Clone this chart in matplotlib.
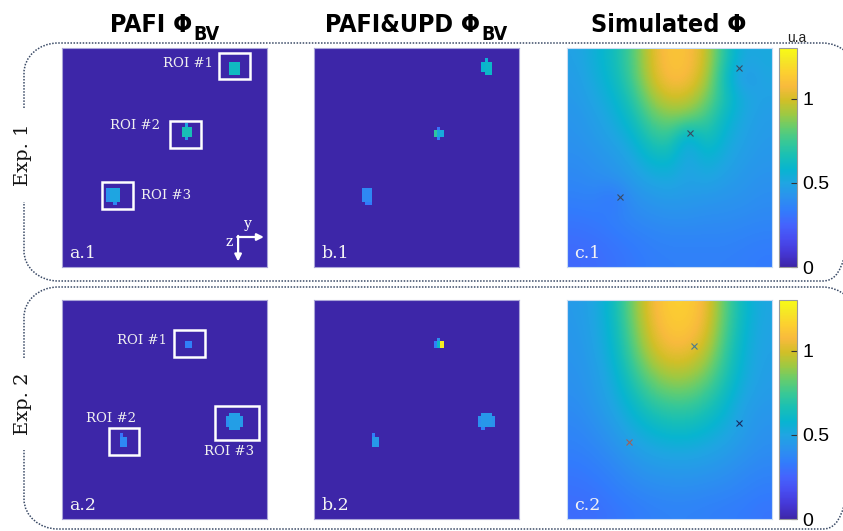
import numpy as np
import matplotlib
matplotlib.use('Agg')
import matplotlib.pyplot as plt
from matplotlib.colors import LinearSegmentedColormap
from matplotlib.patches import Rectangle, PathPatch
from matplotlib.path import Path

# ---------------- data ----------------
col_titles = ['PAFI Φ', 'PAFI&UPD Φ', 'Simulated Φ']
col_subs = ['BV', 'BV', '']
row_labels = ['Exp. 1', 'Exp. 2']
panel_labels = [['a.1', 'b.1', 'c.1'], ['a.2', 'b.2', 'c.2']]
cbar_ticks = [0, 0.5, 1]
cbar_ticklabels = ['0', '0.5', '1']
cbar_unit = 'u.a'
v_min, v_max = 0.0, 1.3
grid_ny, grid_nz = 60, 64

# reconstructed vessel blobs: (y0, y1, z0, z1, value), normalised panel coords
blobs_a1 = [(0.810, 0.840, 0.060, 0.115, 0.50), (0.825, 0.865, 0.070, 0.120, 0.62),
            (0.585, 0.625, 0.365, 0.410, 0.66), (0.600, 0.612, 0.410, 0.428, 0.45),
            (0.600, 0.612, 0.350, 0.365, 0.50),
            (0.225, 0.270, 0.635, 0.700, 0.42), (0.240, 0.283, 0.645, 0.705, 0.50),
            (0.245, 0.262, 0.700, 0.717, 0.38)]
blobs_b1 = [(0.815, 0.850, 0.060, 0.105, 0.58), (0.830, 0.870, 0.070, 0.120, 0.60),
            (0.830, 0.842, 0.048, 0.060, 0.55),
            (0.585, 0.602, 0.370, 0.410, 0.72), (0.602, 0.630, 0.370, 0.410, 0.52),
            (0.602, 0.614, 0.352, 0.370, 0.30), (0.602, 0.614, 0.410, 0.428, 0.35),
            (0.230, 0.285, 0.645, 0.700, 0.38), (0.245, 0.280, 0.700, 0.720, 0.33)]
blobs_a2 = [(0.595, 0.630, 0.180, 0.212, 0.35),
            (0.285, 0.315, 0.625, 0.665, 0.38), (0.285, 0.300, 0.612, 0.625, 0.30),
            (0.800, 0.880, 0.535, 0.580, 0.45), (0.815, 0.865, 0.520, 0.595, 0.47),
            (0.795, 0.810, 0.545, 0.575, 0.40)]
blobs_b2 = [(0.585, 0.600, 0.195, 0.215, 0.35), (0.600, 0.615, 0.185, 0.215, 0.60),
            (0.615, 0.632, 0.188, 0.212, 1.25), (0.600, 0.612, 0.168, 0.185, 0.40),
            (0.290, 0.317, 0.625, 0.665, 0.45), (0.290, 0.302, 0.610, 0.625, 0.35),
            (0.800, 0.880, 0.530, 0.575, 0.42), (0.815, 0.865, 0.515, 0.585, 0.44),
            (0.795, 0.810, 0.540, 0.570, 0.40), (0.812, 0.825, 0.585, 0.600, 0.35)]

# simulated fluence, coarse samples (rows: depth z, cols: y)
sim_c1 = [
    [0.48, 0.55, 0.63, 0.78, 1.00, 1.12, 1.10, 0.98, 0.68, 0.50, 0.52],
    [0.46, 0.53, 0.61, 0.76, 0.98, 1.10, 1.08, 0.94, 0.62, 0.42, 0.50],
    [0.45, 0.50, 0.57, 0.70, 0.90, 1.00, 0.98, 0.86, 0.66, 0.52, 0.48],
    [0.43, 0.47, 0.53, 0.63, 0.80, 0.86, 0.84, 0.76, 0.60, 0.50, 0.46],
    [0.42, 0.45, 0.49, 0.56, 0.70, 0.74, 0.50, 0.68, 0.55, 0.48, 0.45],
    [0.40, 0.42, 0.45, 0.50, 0.60, 0.62, 0.48, 0.58, 0.51, 0.46, 0.44],
    [0.38, 0.40, 0.42, 0.46, 0.51, 0.53, 0.48, 0.51, 0.47, 0.44, 0.42],
    [0.35, 0.36, 0.30, 0.41, 0.44, 0.46, 0.45, 0.44, 0.43, 0.42, 0.40],
    [0.32, 0.33, 0.35, 0.38, 0.40, 0.41, 0.41, 0.40, 0.40, 0.39, 0.38],
    [0.29, 0.30, 0.32, 0.34, 0.36, 0.37, 0.37, 0.37, 0.37, 0.36, 0.35],
    [0.27, 0.28, 0.30, 0.32, 0.34, 0.35, 0.35, 0.35, 0.35, 0.34, 0.33],
]
sim_c2 = [
    [0.45, 0.50, 0.62, 0.85, 1.05, 1.15, 1.15, 1.05, 0.80, 0.60, 0.50],
    [0.44, 0.49, 0.60, 0.82, 1.02, 1.12, 1.12, 1.02, 0.78, 0.58, 0.49],
    [0.43, 0.48, 0.58, 0.78, 0.97, 1.06, 1.05, 0.96, 0.74, 0.56, 0.48],
    [0.42, 0.46, 0.55, 0.72, 0.88, 0.96, 0.95, 0.87, 0.70, 0.54, 0.47],
    [0.41, 0.45, 0.52, 0.65, 0.78, 0.84, 0.84, 0.77, 0.64, 0.51, 0.46],
    [0.39, 0.43, 0.49, 0.58, 0.68, 0.72, 0.72, 0.67, 0.58, 0.47, 0.44],
    [0.37, 0.40, 0.45, 0.52, 0.58, 0.62, 0.62, 0.58, 0.52, 0.46, 0.42],
    [0.35, 0.37, 0.41, 0.46, 0.50, 0.52, 0.52, 0.50, 0.47, 0.43, 0.40],
    [0.32, 0.34, 0.37, 0.41, 0.44, 0.45, 0.45, 0.44, 0.42, 0.39, 0.37],
    [0.30, 0.31, 0.34, 0.37, 0.39, 0.40, 0.40, 0.39, 0.38, 0.36, 0.34],
    [0.28, 0.29, 0.31, 0.33, 0.35, 0.36, 0.36, 0.35, 0.34, 0.33, 0.31],
]
# vessel positions marked on simulated maps
marks_c1_y = [0.84, 0.60, 0.26]
marks_c1_z = [0.09, 0.39, 0.68]
marks_c2_y = [0.62, 0.84, 0.30]
marks_c2_z = [0.21, 0.56, 0.65]

# ROI boxes: (y0, z0, width, height) and their labels (text, y, z, ha)
roi_a1 = [(0.766, 0.023, 0.151, 0.119), (0.527, 0.333, 0.151, 0.124), (0.195, 0.612, 0.151, 0.123)]
roi_a1_txt = [('ROI #1', 0.735, 0.070, 'right'), ('ROI #2', 0.478, 0.355, 'right'),
              ('ROI #3', 0.385, 0.673, 'left')]
roi_a2 = [(0.546, 0.137, 0.152, 0.123), (0.229, 0.584, 0.147, 0.124), (0.746, 0.484, 0.215, 0.155)]
roi_a2_txt = [('ROI #1', 0.510, 0.186, 'right'), ('ROI #2', 0.240, 0.541, 'center'),
              ('ROI #3', 0.815, 0.692, 'center')]

# ---------------- style ----------------
parula_pts = [
    (0.2422, 0.1504, 0.6603), (0.2706, 0.2147, 0.8364), (0.2813, 0.3006, 0.9414),
    (0.2699, 0.3892, 0.9906), (0.1963, 0.4847, 0.9892), (0.1687, 0.5703, 0.9359),
    (0.1248, 0.6459, 0.8883), (0.0297, 0.7082, 0.8163), (0.0964, 0.7500, 0.7120),
    (0.2161, 0.7843, 0.5923), (0.3909, 0.8029, 0.4354), (0.6174, 0.7876, 0.2612),
    (0.8203, 0.7498, 0.1535), (0.9728, 0.7298, 0.2394), (0.9892, 0.8136, 0.1885),
    (0.9597, 0.9135, 0.1423), (0.9769, 0.9839, 0.0805)]
pos = [i * 4 / 63 for i in range(16)] + [1.0]
parula = LinearSegmentedColormap.from_list('parula', list(zip(pos, parula_pts)))

W, H = 843, 531
fig = plt.figure(figsize=(W / 100, H / 100), dpi=100)

# overlay for the rounded dotted frames
ov = fig.add_axes([0, 0, 1, 1])
ov.set_xlim(0, W)
ov.set_ylim(H, 0)
ov.axis('off')


def frame(left, top, right, bottom, rx, ry, g0, g1):
    k = 0.5523
    v = [(left, g0), (left, top + ry),
         (left, top + ry - k * ry), (left + rx - k * rx, top), (left + rx, top),
         (right - rx, top),
         (right - rx + k * rx, top), (right, top + ry - k * ry), (right, top + ry),
         (right, bottom - ry),
         (right, bottom - ry + k * ry), (right - rx + k * rx, bottom), (right - rx, bottom),
         (left + rx, bottom),
         (left + rx - k * rx, bottom), (left, bottom - ry + k * ry), (left, bottom - ry),
         (left, g1)]
    c = [Path.MOVETO, Path.LINETO] + [Path.CURVE4] * 3 + [Path.LINETO] + [Path.CURVE4] * 3 + \
        [Path.LINETO] + [Path.CURVE4] * 3 + [Path.LINETO] + [Path.CURVE4] * 3 + [Path.LINETO]
    ov.add_patch(PathPatch(Path(v, c), fill=False, ec='#3a4a66', lw=1.1,
                           ls=(0, (1, 1))))


frame(24, 43, 856, 281, 34, 30, 108, 202)
frame(24, 287, 856, 529, 34, 30, 358, 450)
for lab, yc in zip(row_labels, [155, 404]):
    ov.text(23, yc, lab, rotation=90, ha='center', va='center', fontsize=14,
            family='DejaVu Serif', color='#111111')


def ax_px(x0, y0, x1, y1):
    return fig.add_axes([x0 / W, 1 - y1 / H, (x1 - x0) / W, (y1 - y0) / H])


def blob_image(blobs):
    img = np.zeros((grid_nz, grid_ny))
    yc = (np.arange(grid_ny) + 0.5) / grid_ny
    zc = (np.arange(grid_nz) + 0.5) / grid_nz
    for (y0, y1, z0, z1, val) in blobs:
        my = (yc >= y0) & (yc <= y1)
        mz = (zc >= z0) & (zc <= z1)
        img[np.ix_(mz, my)] = val
    return img


col_x = [(62, 267), (314, 519), (567, 772)]
row_y = [(48, 267), (300, 519)]
blob_sets = [[blobs_a1, blobs_b1], [blobs_a2, blobs_b2]]
sims = [sim_c1, sim_c2]
marks = [(marks_c1_y, marks_c1_z, ['#3a4a60'] * 3),
         (marks_c2_y, marks_c2_z, ['#4a7a90', '#1a2a60', '#a0605a'])]
rois = [(roi_a1, roi_a1_txt), (roi_a2, roi_a2_txt)]

for r in range(2):
    ya, yb = row_y[r]
    for c in range(3):
        xa, xb = col_x[c]
        ax = ax_px(xa, ya, xb, yb)
        if c < 2:
            data = blob_image(blob_sets[r][c])
            im = ax.imshow(data, cmap=parula, vmin=v_min, vmax=v_max, extent=(0, 1, 1, 0),
                           aspect='auto', interpolation='nearest')
            sc = '#aaa5d8'
        else:
            im = ax.imshow(np.array(sims[r]), cmap=parula, vmin=v_min, vmax=v_max,
                           extent=(0, 1, 1, 0), aspect='auto', interpolation='bicubic')
            my, mz, mc = marks[r]
            for yy, zz, cc in zip(my, mz, mc):
                ax.plot(yy, zz, marker='x', ms=4.5, mew=0.8, color=cc, ls='none')
            sc = '#c8dcf4'
        ax.set_xlim(0, 1)
        ax.set_ylim(1, 0)
        ax.set_xticks([])
        ax.set_yticks([])
        for s in ax.spines.values():
            s.set_color(sc)
            s.set_linewidth(0.8)
        ax.text(0.035, 0.06, panel_labels[r][c], transform=ax.transAxes, ha='left',
                va='center', fontsize=12.5, family='DejaVu Serif', color='#f4f4f4')
        if c == 0:
            boxes, txts = rois[r]
            for (bx, bz, bw, bh) in boxes:
                ax.add_patch(Rectangle((bx, bz), bw, bh, fill=False, ec='white', lw=1.8))
            for (t, tx, tz, ha) in txts:
                ax.text(tx, tz, t, ha=ha, va='center', fontsize=9.5, family='DejaVu Serif',
                        color='#f0f0f0')
            if r == 0:
                ax.annotate('', xy=(0.985, 0.863), xytext=(0.855, 0.863),
                            arrowprops=dict(arrowstyle='-|>', color='white', lw=1.6,
                                            mutation_scale=10, shrinkA=0, shrinkB=0))
                ax.annotate('', xy=(0.859, 0.975), xytext=(0.859, 0.858),
                            arrowprops=dict(arrowstyle='-|>', color='white', lw=1.6,
                                            mutation_scale=10, shrinkA=0, shrinkB=0))
                ax.text(0.905, 0.805, 'y', ha='center', va='center', fontsize=10,
                        family='DejaVu Serif', color='white')
                ax.text(0.815, 0.885, 'z', ha='center', va='center', fontsize=10,
                        family='DejaVu Serif', color='white')
        if c == 2:
            cax = ax_px(779, ya, 797, yb)
            cb = fig.colorbar(im, cax=cax, ticks=cbar_ticks)
            cb.ax.set_yticklabels(cbar_ticklabels)
            cb.ax.tick_params(direction='in', length=4, width=0.8, labelsize=14,
                              color='#333333', pad=4)
            for lb in cb.ax.get_yticklabels():
                lb.set_family('Liberation Sans')
            cb.outline.set_edgecolor('#9a9a9a')
            cb.outline.set_linewidth(0.8)

# column titles (main text + lowered subscript)
renderer = fig.canvas.get_renderer()
title_font = dict(family='DejaVu Sans', stretch='condensed', weight='bold', color='black')
for c, (t, sub) in enumerate(zip(col_titles, col_subs)):
    xa, xb = col_x[c]
    ov.text(0, 0, '')
    tm = ov.text(0, 0, t, fontsize=18, **title_font)
    ts = ov.text(0, 0, sub, fontsize=14, **title_font)
    wm = tm.get_window_extent(renderer).width
    ws = ts.get_window_extent(renderer).width if sub else 0
    x0 = (xa + xb) / 2 - (wm + ws + 1) / 2
    tm.set_position((x0, 32))
    tm.set_va('baseline')
    ts.set_position((x0 + wm + 1, 40))
    ts.set_va('baseline')
ov.text(797, 38, cbar_unit, ha='center', va='center', fontsize=10,
        family='Liberation Sans', color='#222222')

fig.savefig('out.png', dpi=100)
